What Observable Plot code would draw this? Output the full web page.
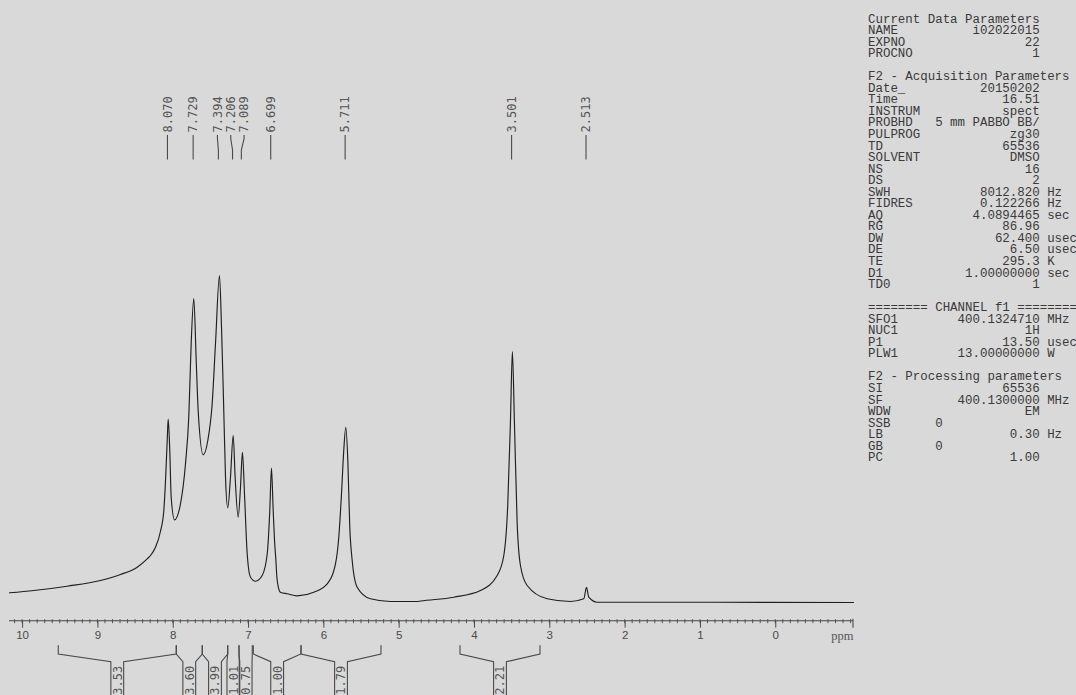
<!DOCTYPE html>
<html><head><meta charset="utf-8">
<script src="https://cdn.jsdelivr.net/npm/d3@7"></script>
<script src="https://cdn.jsdelivr.net/npm/@observablehq/plot@0.6"></script>
<style>
html,body{margin:0;padding:0;background:#d9d9d9;}
#wrap{position:relative;width:1076px;height:695px;overflow:hidden;background:#d9d9d9;}
#chart{position:absolute;left:0;top:0;}
#params{position:absolute;left:868px;top:14.5px;margin:0;font-family:"Liberation Mono",monospace;font-size:12.45px;line-height:11.55px;color:#3a3a3a;white-space:pre;}
</style></head><body>
<div id="wrap"><div id="chart"></div><pre id="params"></pre></div>
<script>
// ---- spectrum (ppm, intensity a.u.) ----
const specPpm = [10.174,9.851,9.408,8.966,8.700,8.478,8.346,8.302,8.236,8.170,8.125,8.103,8.080,8.067,8.046,8.027,7.983,7.903,7.837,7.793,7.762,7.727,7.695,7.669,7.602,7.541,7.483,7.439,7.386,7.359,7.329,7.306,7.276,7.240,7.204,7.178,7.138,7.107,7.081,7.054,7.018,6.974,6.907,6.819,6.752,6.718,6.696,6.673,6.655,6.637,6.624,6.599,6.576,6.487,6.354,6.134,5.956,5.846,5.802,5.766,5.736,5.709,5.682,5.656,5.624,5.558,5.381,5.116,4.761,4.717,4.275,3.921,3.699,3.611,3.559,3.523,3.497,3.470,3.434,3.390,3.301,3.035,2.726,2.549,2.513,2.483,2.371,2.194,-1.032];
const specInt = [9.7,12,16.3,22,28,35.3,43.7,47,55.3,71,92,121,162,183.5,152,105,82.7,99,139,187,258.7,304,242,192,147.7,162,198.7,258.7,327,275.3,192,125.3,94.7,125.3,167,125.3,85.3,115.3,150.3,108.7,48.7,25.3,21.3,27,48.7,92,134.5,92,62,42,25.3,13.7,10.3,8.7,6.7,10.3,18.7,38.7,65.3,108.7,152,175.3,142,75.3,42,15.3,3.7,1,1,1.5,5.3,12,27,47,97,180.3,251,180.3,80.3,37,17,3.7,1,3.7,15.3,5.3,0.3,0.3,0];

// ---- peak picks ----
const peakShifts = [8.070,7.729,7.394,7.206,7.089,6.699,5.711,3.501,2.513];
const peakLabels = ["8.070","7.729","7.394","7.206","7.089","6.699","5.711","3.501","2.513"];

// ---- integrals ----
const integralFrom = [9.520,7.953,7.608,7.270,7.120,6.930,6.297,4.186];
const integralTo   = [7.953,7.608,7.270,7.120,6.944,6.297,5.235,3.124];
const integralValues = ["3.53","3.60","3.99","1.01","0.75","1.00","1.79","2.21"];

// ---- axis ----
const majorTicks = [10,9,8,7,6,5,4,3,2,1,0];
const minorTickStep = 0.1;
const xDomain = [10.174,-1.032];
const yDomain = [-18.7,602];
const axisUnit = "ppm";

// ---- parameter listing ----
const paramNames = ["Current Data Parameters","NAME","EXPNO","PROCNO","","F2 - Acquisition Parameters","Date_","Time","INSTRUM","PROBHD","PULPROG","TD","SOLVENT","NS","DS","SWH","FIDRES","AQ","RG","DW","DE","TE","D1","TD0","","======== CHANNEL f1 ========","SFO1","NUC1","P1","PLW1","","F2 - Processing parameters","SI","SF","WDW","SSB","LB","GB","PC"];
const paramValues = [null,"i02022015","22","1",null,null,"20150202","16.51","spect","5 mm PABBO BB/","zg30","65536","DMSO","16","2","8012.820","0.122266","4.0894465","86.96","62.400","6.50","295.3","1.00000000","1",null,null,"400.1324710","1H","13.50","13.00000000",null,null,"65536","400.1300000","EM","0","0.30","0","1.00"];
const paramUnits = ["","","","","","","","","","","","","","","","Hz","Hz","sec","","usec","usec","K","sec","","","","MHz","","usec","W","","","","MHz","","","Hz","",""];
const paramLeftAligned = ["SSB","GB"];

// parameter text block
const lines = paramNames.map((n,i)=>{
  const v = paramValues[i];
  if (v === null) return n;
  if (paramLeftAligned.includes(n)) return n.padEnd(9) + v;
  const u = paramUnits[i];
  return n + v.padStart(23 - n.length) + (u ? " " + u : "");
});
document.getElementById("params").textContent = lines.join("\n");

// data rows
const rows = specPpm.map((p,i)=>({ppm:p, I:specInt[i]}));

// spread crowded peak labels (ppm space)
const sep = 0.177;
let groups = peakShifts.map((p,i)=>({m:[i], c:p}));
const pos = g => g.m.map((_,k)=> g.c + ((g.m.length-1)/2 - k)*sep);
let merged = true;
while (merged) {
  merged = false;
  for (let i=0;i<groups.length-1;i++){
    const a = pos(groups[i]), b = pos(groups[i+1]);
    if (a[a.length-1] - b[0] < sep - 1e-9) {
      const m = groups[i].m.concat(groups[i+1].m);
      groups.splice(i,2,{m, c: d3.mean(m, j=>peakShifts[j])});
      merged = true; break;
    }
  }
}
const peakRows = [];
groups.forEach(g=>{ const ps = pos(g); g.m.forEach((j,k)=>peakRows.push({ppm:peakShifts[j], lx:ps[k], label:peakLabels[j]})); });

const intRows = integralFrom.map((a,i)=>({a, b:integralTo[i], c:(a+integralTo[i])/2, v:integralValues[i]}));
const minorTicks = d3.range(Math.ceil(xDomain[1]/minorTickStep), Math.floor(xDomain[0]/minorTickStep)+1).map(k=>+(k*minorTickStep).toFixed(1));

const chart = Plot.plot({
  width: 1076, height: 695,
  marginLeft: 9, marginRight: 223, marginTop: 0, marginBottom: 74.3,
  x: {domain: xDomain, ticks: majorTicks, tickSize: 7, tickPadding: 3, tickFormat: d=>String(d), label: null},
  y: {domain: yDomain, axis: null, label: null},
  style: {background: "transparent", color: "#4a4a4a", fontFamily: "Liberation Sans, sans-serif", fontSize: "11.5px", overflow: "visible"},
  marks: [
    Plot.text([axisUnit], {text: d=>d, frameAnchor: "bottom-right", textAnchor: "end", lineAnchor: "middle", dy: 14.5, fontFamily: "Liberation Serif, serif", fontSize: 12.5, fill: "#555"}),
    Plot.line(rows, {x: "ppm", y: "I", stroke: "#1f1f1f", strokeWidth: 1.15, curve: "monotone-x"}),
    Plot.text(peakRows, {x: "lx", text: "label", frameAnchor: "top", dy: 132, rotate: -90, textAnchor: "start", lineAnchor: "middle", fontFamily: "DejaVu Sans Mono, monospace", fontSize: 12, fill: "#555"}),
    Plot.text(intRows, {x: "c", text: "v", frameAnchor: "bottom", dy: 73.5, rotate: -90, textAnchor: "start", lineAnchor: "middle", fontFamily: "DejaVu Sans Mono, monospace", fontSize: 12, fill: "#555"})
  ]
});
document.getElementById("chart").appendChild(chart);

// annotation strokes placed with Plot's own x scale
const sx = chart.scale("x"), sy = chart.scale("y");
const svg = d3.select(chart);
const yAxis = sy.apply(yDomain[0]);
const g = svg.append("g").attr("fill","none").attr("stroke","#4a4a4a").attr("stroke-width",1.1);
g.append("line").attr("x1", sx.apply(xDomain[0])).attr("x2", sx.apply(xDomain[1])).attr("y1", yAxis).attr("y2", yAxis).attr("stroke","#444");
minorTicks.forEach(t=>{ const x = sx.apply(t); g.append("line").attr("x1",x).attr("x2",x).attr("y1",yAxis-1.5).attr("y2",yAxis+2.5).attr("stroke-width",0.9); });
{ const x = sx.apply(xDomain[1]); g.append("line").attr("x1",x).attr("x2",x).attr("y1",yAxis-2).attr("y2",yAxis+7); }
// peak connectors
peakRows.forEach(r=>{
  const lx = sx.apply(r.lx), px = sx.apply(r.ppm);
  g.append("path").attr("d", `M${lx},135 L${lx},138.5 L${px},150 L${px},159.5`);
});
// integral brackets
const half = 6.4;
intRows.forEach(r=>{
  const xa = sx.apply(r.a), xb = sx.apply(r.b), xc = sx.apply(r.c);
  const top = yAxis + 24.5, mid = yAxis + 33.3, boxTop = yAxis + 41, bottom = 700;
  g.append("path").attr("d", `M${xa},${top} L${xa},${mid} L${xc-half},${boxTop} L${xc-half},${bottom} M${xb},${top} L${xb},${mid} L${xc+half},${boxTop} L${xc+half},${bottom}`);
});
</script>
</body></html>
